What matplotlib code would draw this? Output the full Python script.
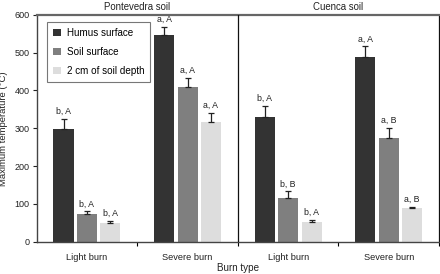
import matplotlib
matplotlib.use("Agg")
import matplotlib.pyplot as plt
import numpy as np
from matplotlib.patches import Patch

plt.rcParams['font.family'] = ['Liberation Sans', 'DejaVu Sans']

soils = ["Pontevedra soil", "Cuenca soil"]
burns = ["Light burn", "Severe burn"]
series = ["Humus surface", "Soil surface", "2 cm of soil depth"]
colors = ["#333333", "#7f7f7f", "#dddddd"]

# values[soil][burn][series]
means = [
    [[297, 72, 50], [546, 408, 316]],
    [[329, 115, 53], [487, 273, 88]],
]
errs = [
    [[28, 8, 5], [22, 24, 25]],
    [[29, 18, 4], [29, 27, 5]],
]
letters = [
    [["b, A", "b, A", "b, A"], ["a, A", "a, A", "a, A"]],
    [["b, A", "b, B", "b, A"], ["a, A", "a, B", "a, B"]],
]

fig = plt.figure(figsize=(4.4, 2.74), dpi=100)
ax = fig.add_axes([36.7/440, 1-241.7/274, (439-36.7)/440, (241.7-14.7)/274])

width = 0.2
offs = [-0.233, 0, 0.233]
fs = 6.3
for si in range(2):
    for bi in range(2):
        center = si*2 + bi + 0.5
        for k in range(3):
            x = center + offs[k]
            m = means[si][bi][k]
            e = errs[si][bi][k]
            ax.bar(x, m, width=width, color=colors[k], edgecolor='none', zorder=2)
            ax.errorbar(x, m, yerr=[[0], [e]], fmt='none', ecolor='#222222',
                        elinewidth=0.9, capsize=2.5, capthick=0.9, zorder=3)
            ax.text(x, m + e + 8, letters[si][bi][k], ha='center', va='bottom',
                    fontsize=fs, color='#222222')

ax.set_xlim(0, 4)
ax.set_ylim(0, 600)
ax.set_yticks(range(0, 601, 100))
ax.set_xticks([1, 2, 3, 4])
ax.set_xticklabels([])
ax.set_xticks([0.5, 1.5, 2.5, 3.5], minor=True)
ax.set_xticklabels(burns * 2, minor=True)
ax.tick_params(axis='x', which='minor', length=0, labelsize=fs+0.4, pad=8, colors='#222222')
ax.tick_params(axis='x', which='major', length=3, width=0.8, direction='out')
ax.tick_params(axis='y', length=3, width=0.8, labelsize=fs+0.2, colors='#222222', pad=2)

ax.axvline(2, color='#111111', lw=0.9, zorder=4)
ax.spines['top'].set_color('#666666')
ax.spines['top'].set_linewidth(1.6)
ax.spines['left'].set_color('#444444')
ax.spines['left'].set_linewidth(1.0)
ax.spines['bottom'].set_color('#444444')
ax.spines['bottom'].set_linewidth(1.0)
ax.spines['right'].set_color('#111111')
ax.spines['right'].set_linewidth(0.9)

for si, s in enumerate(soils):
    ax.text(si*2 + 1, 1.012, s, transform=ax.get_xaxis_transform(),
            ha='center', va='bottom', fontsize=fs+0.6, color='#222222')

ax.set_ylabel("Maximum temperature (°C)", fontsize=fs+0.5, color='#222222')
ax.yaxis.set_label_coords((8.5-36.7)/402.3, 0.5)
fig.text(238/440, 1-268/274, "Burn type", ha='center', va='center', fontsize=fs+0.8, color='#222222')

handles = [Patch(facecolor=c, edgecolor='none') for c in colors]
leg = ax.legend(handles, series, loc='upper left', bbox_to_anchor=(10.5/402.3, 1-7.5/227),
                borderaxespad=0, fontsize=fs+0.8, frameon=True, fancybox=False, handlelength=0.8,
                handleheight=0.8, handletextpad=0.6, borderpad=0.6, labelspacing=0.9)
leg.get_frame().set_edgecolor('#555555')
leg.get_frame().set_linewidth(0.8)

fig.savefig("out.png", dpi=100)
